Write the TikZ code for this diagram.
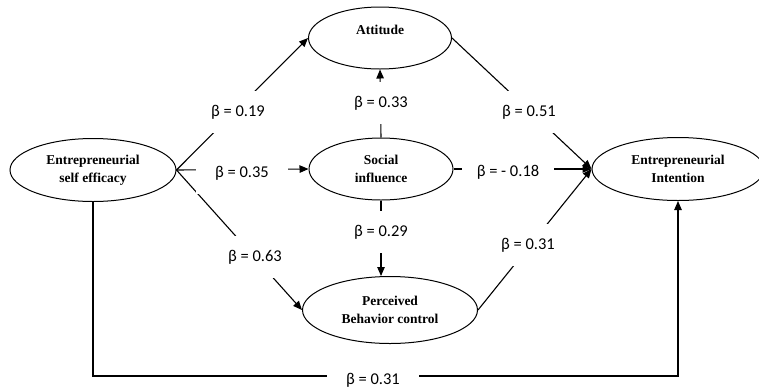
\documentclass[tikz,border=0pt]{standalone}
\usepackage{fontspec}
\setmainfont{Liberation Serif}
\newfontfamily\betafont{Carlito}
\usetikzlibrary{shapes.geometric,arrows.meta}
\begin{document}
\begin{tikzpicture}[x=1pt,y=-1pt,
  ell/.style={draw, ellipse, line width=1pt, inner sep=0pt, align=center,
              font=\fontsize{13.5}{18}\selectfont\bfseries},
  conn/.style={line width=1.1pt, -{Triangle[length=9pt,width=7.5pt]}},
  betalab/.style={fill=white, inner sep=0pt, minimum width=92pt, minimum height=42pt,
              font=\betafont\fontsize{16.5}{18}\selectfont}]
\useasboundingbox (0,0) rectangle (759,389);
\fill[white] (0,0) rectangle (759,389);

% constructs
\node[ell, minimum width=166pt, minimum height=63pt] (ese) at (93,170) {Entrepreneurial\\self efficacy};
\node[ell, minimum width=143pt, minimum height=62pt] (att) at (380,38) {\raisebox{0pt}[9pt][16pt]{Attitude}};
\node[ell, minimum width=144pt, minimum height=62pt] (si) at (381,169) {Social\\influence};
\node[ell, minimum width=175pt, minimum height=67pt] (pbc) at (390,310) {Perceived\\Behavior control};
\node[ell, minimum width=172pt, minimum height=63pt] (ei) at (678,169) {Entrepreneurial\\Intention};
\coordinate (bot) at (0,376);

% paths
\draw[conn] (ese.east) -- (att.west);
\draw[conn] (ese.east) -- (si.west);
\draw[conn] (ese.east) -- (pbc.west);
\draw[conn] (si.north) -- (att.south);
\draw[conn] (si.south) -- (si.south |- pbc.north);
\draw[conn] (att.east) -- (ei.west);
\draw[conn] (si.east) -- (ei.west);
\draw[conn] (pbc.east) -- (ei.west);
\draw[conn] (ese.south) -- (ese.south |- bot) -| (ei.south);

% coefficients
\node[betalab] (b019) at (238,112) {β = 0.19};
\node[betalab] (b035) at (242,173) {β = 0.35};
\node[betalab] (b063) at (255,257) {β = 0.63};
\node[betalab] (b033) at (381,103) {β = 0.33};
\node[betalab] (b029) at (381,232) {β = 0.29};
\node[betalab] (b051) at (529,112) {β = 0.51};
\node[betalab] (b018) at (508,172) {β = - 0.18};
\node[betalab] (b031a) at (528,245) {β = 0.31};
\node[betalab] (b031b) at (373,380) {β = 0.31};
\end{tikzpicture}
\end{document}
